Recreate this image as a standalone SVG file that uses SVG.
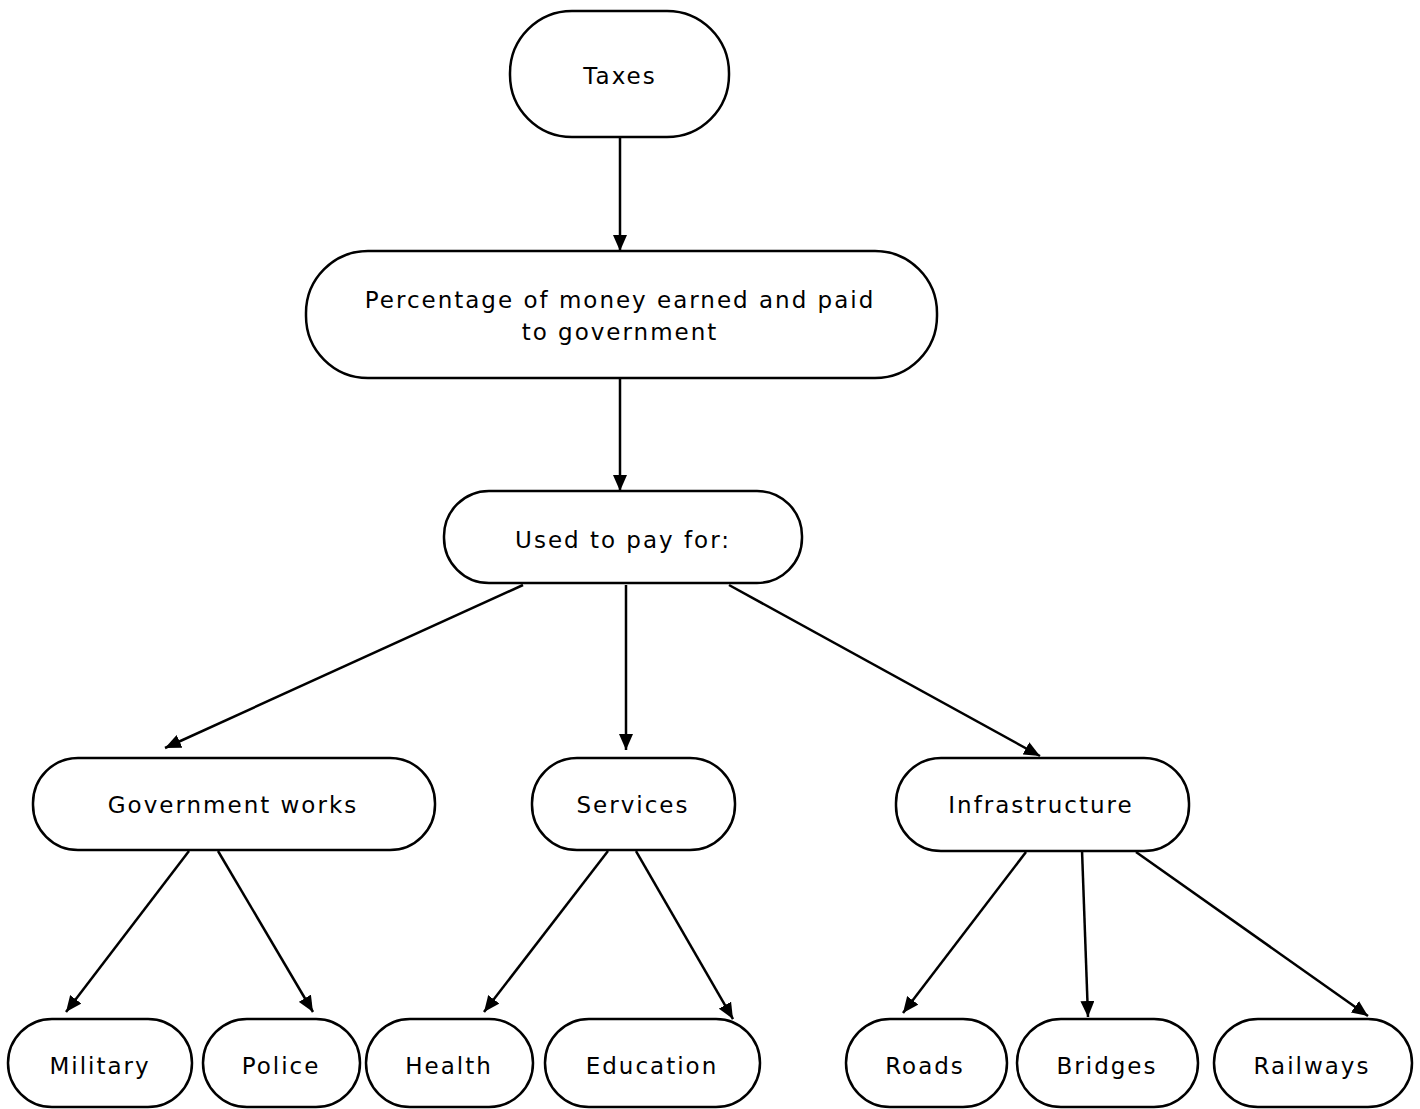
<svg xmlns="http://www.w3.org/2000/svg" width="1420" height="1109" viewBox="0 0 1420 1109">
<style>
.n rect{fill:#fff;stroke:#000;stroke-width:2.5}
.n text{font-family:"DejaVu Sans","Liberation Sans",sans-serif;font-size:23px;letter-spacing:2px;fill:#000;text-anchor:middle;dominant-baseline:central}
#edges line{stroke:#000;stroke-width:2.5;marker-end:url(#ah)}
</style>
<defs>
<marker id="ah" viewBox="0 0 16 14" refX="16" refY="7" markerWidth="16" markerHeight="14" markerUnits="userSpaceOnUse" orient="auto">
<path d="M0,0 L16,7 L0,14 Z" fill="#000"/>
</marker>
</defs>
<g id="edges">
<line x1="620" y1="137" x2="620" y2="251"/>
<line x1="620" y1="375" x2="620" y2="491"/>
<line x1="523" y1="585" x2="165" y2="748"/>
<line x1="626" y1="585" x2="626" y2="750"/>
<line x1="729" y1="585" x2="1040" y2="756"/>
<line x1="189" y1="851" x2="66" y2="1012"/>
<line x1="218" y1="851" x2="313" y2="1012"/>
<line x1="608" y1="851" x2="484" y2="1012"/>
<line x1="636" y1="851" x2="733" y2="1019"/>
<line x1="1026" y1="852" x2="903" y2="1013"/>
<line x1="1082" y1="850" x2="1088" y2="1017"/>
<line x1="1136" y1="852" x2="1368" y2="1016"/>
</g>
<g id="taxes" class="n"><rect x="510" y="11" width="219" height="126" rx="62"/><text x="620" y="76">Taxes</text></g>
<g id="percentage" class="n"><rect x="306" y="251" width="631" height="127" rx="62"/><text x="620" y="300">Percentage of money earned and paid</text><text x="620" y="332">to government</text></g>
<g id="used" class="n"><rect x="444" y="491" width="358" height="92" rx="45"/><text x="623" y="540">Used to pay for:</text></g>
<g id="gov" class="n"><rect x="33" y="758" width="402" height="92" rx="45"/><text x="233" y="805">Government works</text></g>
<g id="services" class="n"><rect x="532" y="758" width="203" height="92" rx="45"/><text x="633" y="805">Services</text></g>
<g id="infra" class="n"><rect x="896" y="758" width="293" height="93" rx="45"/><text x="1041" y="805">Infrastructure</text></g>
<g id="military" class="n"><rect x="8" y="1019" width="184" height="88" rx="44"/><text x="100" y="1066">Military</text></g>
<g id="police" class="n"><rect x="203" y="1019" width="157" height="88" rx="44"/><text x="281" y="1066">Police</text></g>
<g id="health" class="n"><rect x="366" y="1019" width="167" height="88" rx="44"/><text x="449" y="1066">Health</text></g>
<g id="education" class="n"><rect x="545" y="1019" width="215" height="88" rx="44"/><text x="652" y="1066">Education</text></g>
<g id="roads" class="n"><rect x="846" y="1019" width="161" height="88" rx="44"/><text x="925" y="1066">Roads</text></g>
<g id="bridges" class="n"><rect x="1017" y="1019" width="181" height="88" rx="44"/><text x="1107" y="1066">Bridges</text></g>
<g id="railways" class="n"><rect x="1214" y="1019" width="198" height="88" rx="44"/><text x="1312" y="1066">Railways</text></g>
</svg>
